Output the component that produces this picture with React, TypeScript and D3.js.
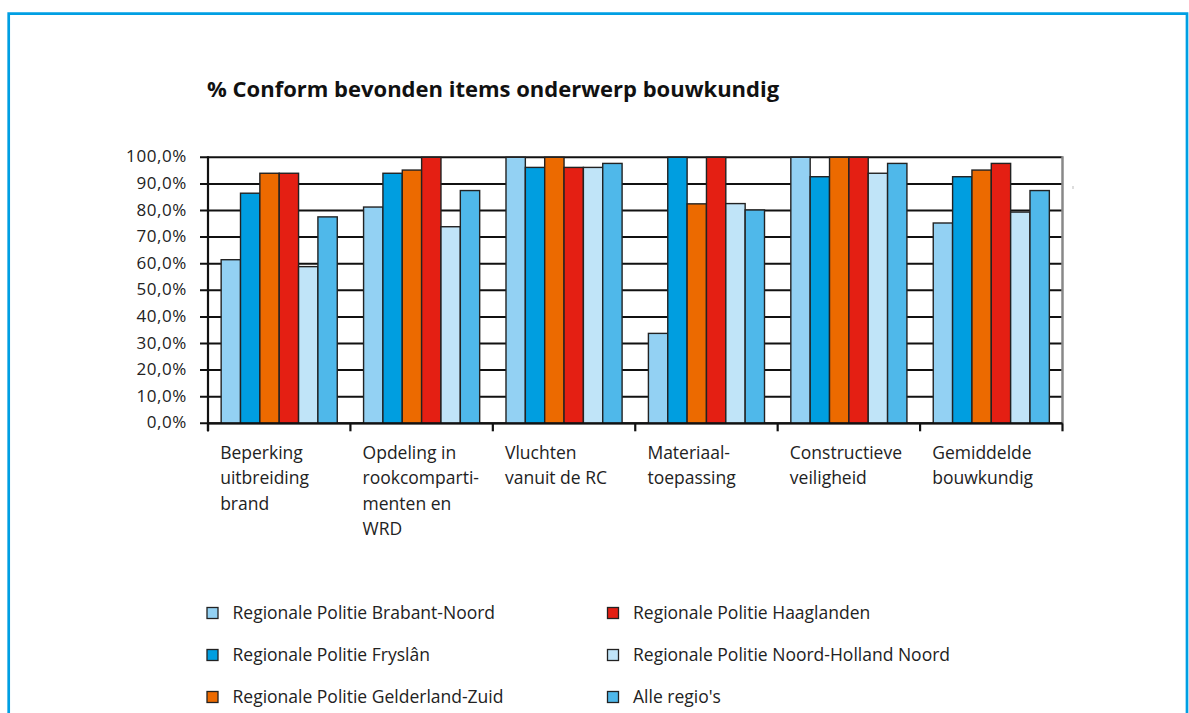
import React from "react";
import * as d3 from "d3";

const categories: string[][] = [
  ["Beperking", "uitbreiding", "brand"],
  ["Opdeling in", "rookcomparti-", "menten en", "WRD"],
  ["Vluchten", "vanuit de RC"],
  ["Materiaal-", "toepassing"],
  ["Constructieve", "veiligheid"],
  ["Gemiddelde", "bouwkundig"],
];

const seriesNames = [
  "Regionale Politie Brabant-Noord",
  "Regionale Politie Fryslân",
  "Regionale Politie Gelderland-Zuid",
  "Regionale Politie Haaglanden",
  "Regionale Politie Noord-Holland Noord",
  "Alle regio's",
];

const brabantNoord = [61.5, 81.3, 100, 33.8, 100, 75.3];
const fryslan = [86.5, 94.0, 96.2, 100, 92.7, 92.7];
const gelderlandZuid = [94.0, 95.2, 100, 82.5, 100, 95.2];
const haaglanden = [94.0, 100, 96.2, 100, 100, 97.7];
const noordHollandNoord = [58.9, 73.9, 96.2, 82.6, 94.0, 79.4];
const alleRegios = [77.6, 87.5, 97.7, 80.2, 97.7, 87.5];

const seriesValues = [brabantNoord, fryslan, gelderlandZuid, haaglanden, noordHollandNoord, alleRegios];
const seriesColors = ["#93d1f3", "#009ee0", "#ec6a00", "#e41f13", "#c0e4f8", "#4fb8ea"];

const yTicks = [0, 10, 20, 30, 40, 50, 60, 70, 80, 90, 100];
const title = "% Conform bevonden items onderwerp bouwkundig";

const W = 1189;
const H = 713;
const FONT = "'Open Sans', sans-serif";

export default function App() {
  const left = 208, right = 1062.5, top = 157.3, bottom = 423.3;
  const x0 = d3.scaleBand<number>().domain(d3.range(categories.length)).range([left, right]).padding(0);
  const x1 = d3.scaleBand<number>().domain(d3.range(seriesNames.length)).range([0, x0.bandwidth()]).paddingInner(0).paddingOuter(0.68);
  const y = d3.scaleLinear().domain([0, 100]).range([bottom, top]);
  const nl = d3.formatLocale({ decimal: ",", thousands: ".", grouping: [3], currency: ["€", ""] });
  const fmt = (v: number) => nl.format(".1f")(v) + "%";

  const boundaries = d3.range(categories.length + 1).map((i) => left + i * x0.bandwidth());

  return (
    <svg width={W} height={H} style={{ position: "absolute", left: 0, top: 0, background: "#fff" }} fontFamily={FONT}>
      <rect x={0} y={0} width={W} height={H} fill="#fff" />
      <path d={`M8.7,${H + 5} V13.7 H1187 V${H + 5}`} fill="none" stroke="#009fe3" strokeWidth={2.7} />
      <text x={207} y={97} fontSize={22} fontWeight={700} fill="#111">{title}</text>

      {/* gridlines */}
      {yTicks.map((t) => (
        <line key={"g" + t} x1={left - 8} x2={right} y1={y(t)} y2={y(t)} stroke="#111" strokeWidth={2} />
      ))}
      {yTicks.map((t) => (
        <text key={"yl" + t} x={187} y={y(t) + 5} textAnchor="end" fontSize={17} letterSpacing={0.6} fill="#222">{fmt(t)}</text>
      ))}

      {/* bars */}
      {seriesValues.map((vals, s) =>
        vals.map((v, c) => (
          <rect
            key={`b${s}-${c}`}
            x={(x0(c) as number) + (x1(s) as number)}
            y={y(v)}
            width={x1.bandwidth()}
            height={bottom - y(v)}
            fill={seriesColors[s]}
            stroke="#222"
            strokeWidth={1.4}
          />
        ))
      )}

      {/* axes */}
      <line x1={right} x2={right} y1={top - 1} y2={bottom} stroke="#888" strokeWidth={2.5} />
      <line x1={left} x2={left} y1={top - 1} y2={bottom + 8} stroke="#111" strokeWidth={2.2} />
      <line x1={left} x2={right} y1={bottom} y2={bottom} stroke="#111" strokeWidth={2.2} />
      {boundaries.map((b, i) => (
        <line key={"t" + i} x1={b} x2={b} y1={bottom} y2={bottom + 8} stroke="#111" strokeWidth={2.2} />
      ))}
      <line x1={1073} x2={1073} y1={186} y2={189} stroke="#bbb" strokeWidth={1} />

      {/* category labels */}
      {categories.map((lines, c) => (
        <text key={"c" + c} fontSize={17.5} fill="#222">
          {lines.map((ln, i) => (
            <tspan key={i} x={(x0(c) as number) + (x1(0) as number) - 1} y={459 + i * 25.3}>{ln}</tspan>
          ))}
        </text>
      ))}

      {/* legend */}
      {seriesNames.map((name, i) => {
        const col = Math.floor(i / 3);
        const row = i % 3;
        const sx = col === 0 ? 207 : 607.5;
        const cy = 613 + row * 42;
        return (
          <g key={"l" + i}>
            <rect x={sx} y={cy - 5.5} width={11} height={11} fill={seriesColors[i]} stroke="#222" strokeWidth={1.3} />
            <text x={sx + 25.5} y={cy + 6} fontSize={17.5} fill="#222">{name}</text>
          </g>
        );
      })}
    </svg>
  );
}
